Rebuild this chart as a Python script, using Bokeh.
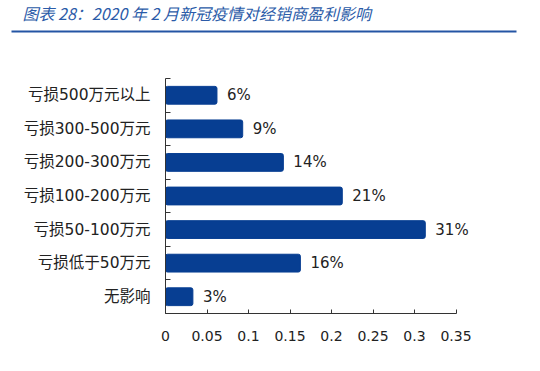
from bokeh.plotting import figure
from bokeh.layouts import column
from bokeh.models import (Range1d, FixedTicker, ColumnDataSource, Label,
                          BoxAnnotation, CustomJSTickFormatter)
from bokeh.core.properties import value
from bokeh.embed import file_html
from bokeh.resources import INLINE

# ---- data ----
categories = ["亏损500万元以上", "亏损300-500万元", "亏损200-300万元",
              "亏损100-200万元", "亏损50-100万元", "亏损低于50万元", "无影响"]
shares = [0.062, 0.093, 0.142, 0.213, 0.313, 0.1625, 0.033]
x_ticks = [0, 0.05, 0.1, 0.15, 0.2, 0.25, 0.3, 0.35]
title_text = "图表 28：2020 年 2 月新冠疫情对经销商盈利影响"

W = 540
LATIN_CJK = "'DejaVu Sans', 'Noto Sans CJK SC'"


def blank(height):
    f = figure(width=W, height=height, x_range=Range1d(0, W), y_range=Range1d(height, 0),
               output_backend="svg", toolbar_location=None,
               x_axis_location=None, y_axis_location=None, min_border=0)
    f.frame_align = False
    f.outline_line_color = None
    f.grid.visible = False
    f.background_fill_color = "white"
    f.border_fill_color = "white"
    return f


# ---- header: title + thick rule ----
head = blank(34)
head.add_layout(Label(x=22, y=12.5, text=title_text, text_baseline="middle",
                      text_align="left",
                      text_font="Noto Sans CJK SC", text_font_style="italic",
                      text_font_size="16px", text_color="#2b5ba8"))
head.add_layout(BoxAnnotation(left=11, right=516, top=30, bottom=32,
                              fill_color="#2455a4", fill_alpha=1, line_alpha=0))

# ---- main chart ----
n = len(categories)
ypos = [n - 0.5 - i for i in range(n)]
labels = [f"{round(v * 100)}%" for v in shares]
src = ColumnDataSource(dict(y=ypos, v=shares, lab=labels))

p = figure(width=W, height=332, output_backend="svg", toolbar_location=None,
           x_range=Range1d(0, 0.4), y_range=Range1d(0, n),
           min_border_left=165, min_border_right=43,
           min_border_top=44, min_border_bottom=53)
p.frame_align = False
p.outline_line_color = None
p.xgrid.visible = False
p.ygrid.visible = False
p.background_fill_color = "white"
p.border_fill_color = "white"

bar_color = "#073e92"
p.hbar(y="y", right="v", left=0, height=0.53, source=src,
       fill_color=bar_color, line_color=bar_color, border_radius=2)
p.text(x="v", y="y", text="lab", source=src, x_offset=10,
       text_baseline="middle", text_align="left",
       text_font=value("DejaVu Sans"), text_font_size="15px", text_color="#222222")

yax = p.yaxis[0]
yax.ticker = FixedTicker(ticks=ypos, minor_ticks=list(range(n + 1)))
yax.major_label_overrides = {y: c for y, c in zip(ypos, categories)}
yax.major_tick_in = 0
yax.major_tick_out = 0
yax.minor_tick_in = 5
yax.minor_tick_out = 0
yax.minor_tick_line_color = "#333333"
yax.axis_line_color = "#333333"
yax.major_label_standoff = 15
yax.major_label_text_font = LATIN_CJK
yax.major_label_text_font_size = "15.5px"
yax.major_label_text_color = "#222222"

xax = p.xaxis[0]
xax.ticker = FixedTicker(ticks=x_ticks)
xax.bounds = (0, 0.35)
xax.formatter = CustomJSTickFormatter(code="return String(Math.round(tick*100)/100);")
xax.major_tick_in = 4
xax.major_tick_out = 0
xax.minor_tick_in = 0
xax.minor_tick_out = 0
xax.major_tick_line_color = "#333333"
xax.axis_line_color = "#333333"
xax.major_label_standoff = 17
xax.major_label_text_font = "DejaVu Sans"
xax.major_label_text_font_size = "14px"
xax.major_label_text_color = "#222222"

# ---- footer: thin rule ----
foot = blank(5)
foot.add_layout(BoxAnnotation(left=11, right=W, top=3.5, bottom=4.5,
                              fill_color="#7da3da", fill_alpha=1, line_alpha=0))

layout = column(head, p, foot, spacing=0)
open("out.html", "w").write(file_html(layout, INLINE))
